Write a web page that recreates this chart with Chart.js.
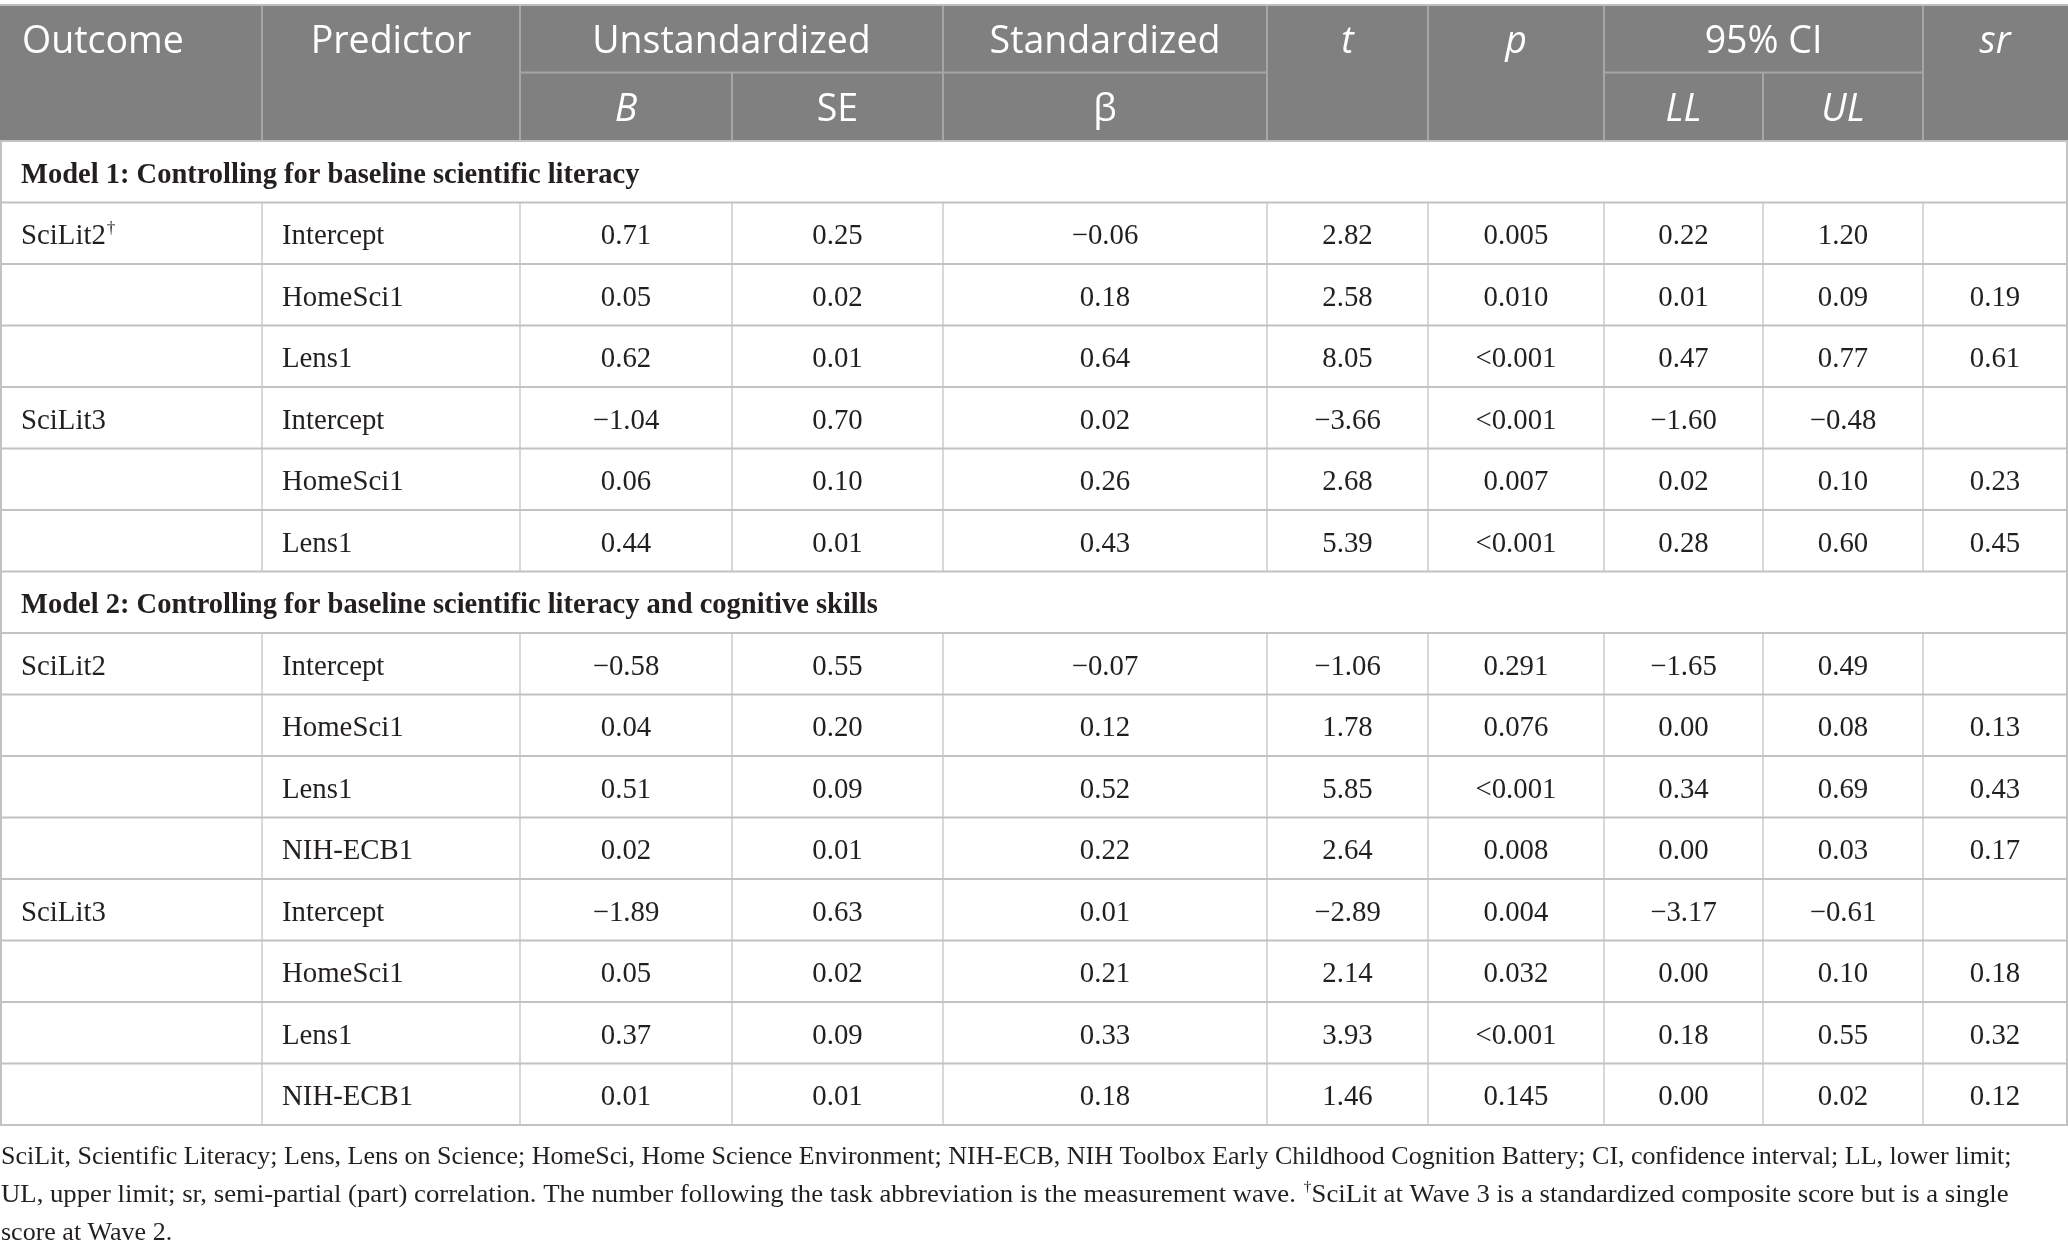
<!DOCTYPE html>
<html><head><meta charset="utf-8">
<script src="https://cdn.jsdelivr.net/npm/chart.js@4.4.0/dist/chart.umd.min.js"></script>
<style>html,body{margin:0;padding:0;background:#fff;overflow:hidden}canvas{display:block}</style>
</head><body>
<canvas id="c" width="2068" height="1253"></canvas>
<script>
// ---------- DATA ----------
const headerTop = ['Outcome', 'Predictor', 'Unstandardized', 'Standardized', 't', 'p', '95% CI', 'sr'];
const headerSub = ['B', 'SE', 'β', 'LL', 'UL'];
const modelTitles = ['Model 1: Controlling for baseline scientific literacy',
                     'Model 2: Controlling for baseline scientific literacy and cognitive skills'];
const modelRowCounts = [6, 8];
const outcomes   = ['SciLit2†', '', '', 'SciLit3', '', '', 'SciLit2', '', '', '', 'SciLit3', '', '', ''];
const predictors = ['Intercept', 'HomeSci1', 'Lens1', 'Intercept', 'HomeSci1', 'Lens1',
                    'Intercept', 'HomeSci1', 'Lens1', 'NIH-ECB1', 'Intercept', 'HomeSci1', 'Lens1', 'NIH-ECB1'];
const B     = [0.71, 0.05, 0.62, -1.04, 0.06, 0.44, -0.58, 0.04, 0.51, 0.02, -1.89, 0.05, 0.37, 0.01];
const SE    = [0.25, 0.02, 0.01, 0.70, 0.10, 0.01, 0.55, 0.20, 0.09, 0.01, 0.63, 0.02, 0.09, 0.01];
const beta  = [-0.06, 0.18, 0.64, 0.02, 0.26, 0.43, -0.07, 0.12, 0.52, 0.22, 0.01, 0.21, 0.33, 0.18];
const tVals = [2.82, 2.58, 8.05, -3.66, 2.68, 5.39, -1.06, 1.78, 5.85, 2.64, -2.89, 2.14, 3.93, 1.46];
const pVals = ['0.005', '0.010', '<0.001', '<0.001', '0.007', '<0.001', '0.291', '0.076', '<0.001', '0.008',
               '0.004', '0.032', '<0.001', '0.145'];
const LL    = [0.22, 0.01, 0.47, -1.60, 0.02, 0.28, -1.65, 0.00, 0.34, 0.00, -3.17, 0.00, 0.18, 0.00];
const UL    = [1.20, 0.09, 0.77, -0.48, 0.10, 0.60, 0.49, 0.08, 0.69, 0.03, -0.61, 0.10, 0.55, 0.02];
const sr    = [null, 0.19, 0.61, null, 0.23, 0.45, null, 0.13, 0.43, 0.17, null, 0.18, 0.32, 0.12];
const footnoteLines = [
  'SciLit, Scientific Literacy; Lens, Lens on Science; HomeSci, Home Science Environment; NIH-ECB, NIH Toolbox Early Childhood Cognition Battery; CI, confidence interval; LL, lower limit;',
  'UL, upper limit; sr, semi-partial (part) correlation. The number following the task abbreviation is the measurement wave. †SciLit at Wave 3 is a standardized composite score but is a single',
  'score at Wave 2.'
];

// ---------- LAYOUT ----------
const W = 2068, H = 1253;
const colEdges = [0, 262, 520, 732, 943, 1267, 1428, 1604, 1763, 1923, 2067];
const tableTop = 6, headerMid = 72.5, headerBottom = 141, rowH = 61.5;
const padLeft = 21;
const footStretch = [1, 1.028, 1];
const SERIF = '"Liberation Serif", "Times New Roman", serif';
const SANS = '"Open Sans", sans-serif';
const bodyFont = '28.8px ' + SERIF;
const boldFont = 'bold 28.5px ' + SERIF;
const headFont = '37.5px ' + SANS;
const headItalic = 'italic 37.5px ' + SANS;
const noteFont = '26px ' + SERIF;
const textColor = '#231f20';

const fmt = v => v === null ? '' : (typeof v === 'string' ? v : (v < 0 ? '−' + Math.abs(v).toFixed(2) : v.toFixed(2)));

// build display rows
const rows = [];
let di = 0;
modelTitles.forEach((t, m) => {
  rows.push({ type: 'model', text: t });
  for (let k = 0; k < modelRowCounts[m]; k++) rows.push({ type: 'data', i: di++ });
});
const rowCenter = r => headerBottom + (r + 0.5) * rowH;

const columnsData = [outcomes, predictors, B, SE, beta, tVals, pVals, LL, UL, sr];
const datasets = columnsData.map((arr, c) => {
  const left = c < 2;
  const pts = [], texts = [];
  rows.forEach((row, r) => {
    if (row.type !== 'data') return;
    pts.push({ x: left ? colEdges[c] + padLeft - (c === 0 ? 0 : 1) : (colEdges[c] + colEdges[c + 1]) / 2, y: rowCenter(r) });
    texts.push(fmt(arr[row.i]));
  });
  return { label: 'col' + c, data: pts, texts, align: left ? 'left' : 'center', font: bodyFont, pointRadius: 0 };
});
// model titles dataset
const mPts = [], mTexts = [];
rows.forEach((row, r) => { if (row.type === 'model') { mPts.push({ x: padLeft, y: rowCenter(r) }); mTexts.push(row.text); } });
datasets.push({ label: 'models', data: mPts, texts: mTexts, align: 'left', font: boldFont, pointRadius: 0 });
// header positions
const headTopPos = [
  { x: 22, a: 'left', it: false },
  { x: (colEdges[1] + colEdges[2]) / 2, a: 'center', it: false },
  { x: (colEdges[2] + colEdges[4]) / 2, a: 'center', it: false },
  { x: (colEdges[4] + colEdges[5]) / 2, a: 'center', it: false },
  { x: (colEdges[5] + colEdges[6]) / 2, a: 'center', it: true },
  { x: (colEdges[6] + colEdges[7]) / 2, a: 'center', it: true },
  { x: (colEdges[7] + colEdges[9]) / 2, a: 'center', it: false },
  { x: (colEdges[9] + colEdges[10]) / 2, a: 'center', it: true }
];
const headSubCols = [2, 3, 4, 7, 8];
const headSubItalic = [true, false, false, true, true];

function drawText(ctx, str, x, y, align, font) {
  ctx.font = font;
  ctx.textAlign = align;
  ctx.textBaseline = 'middle';
  const k = str.indexOf('†');
  if (k < 0) { ctx.fillText(str, x, y); return; }
  const base = str.slice(0, k), rest = str.slice(k + 1);
  const m = font.match(/([\d.]+)px/); const size = parseFloat(m[1]);
  const supFont = font.replace(/[\d.]+px/, (size * 0.6).toFixed(1) + 'px');
  ctx.textAlign = 'left';
  let cx = x;
  ctx.fillText(base, cx, y); cx += ctx.measureText(base).width;
  ctx.font = supFont; ctx.fillText('†', cx + 1, y - size * 0.3); cx += ctx.measureText('†').width + 1;
  ctx.font = font; ctx.fillText(rest, cx, y);
}

const tablePlugin = {
  id: 'tablePlugin',
  beforeDatasetsDraw(chart) {
    const { ctx, scales: { x, y } } = chart;
    const X = v => x.getPixelForValue(v), Y = v => y.getPixelForValue(v);
    ctx.save();
    // header background
    ctx.fillStyle = '#808080';
    ctx.fillRect(X(0), Y(tableTop), X(W) - X(0), Y(headerBottom) - Y(tableTop));
    // top rule
    ctx.strokeStyle = '#bdbdbd'; ctx.lineWidth = 2;
    ctx.beginPath(); ctx.moveTo(X(0), Y(tableTop) - 1); ctx.lineTo(X(W), Y(tableTop) - 1); ctx.stroke();
    // header separators
    ctx.strokeStyle = '#a6a6a6'; ctx.lineWidth = 2;
    ctx.beginPath();
    ctx.moveTo(X(colEdges[2]), Y(headerMid)); ctx.lineTo(X(colEdges[5]), Y(headerMid));
    ctx.moveTo(X(colEdges[7]), Y(headerMid)); ctx.lineTo(X(colEdges[9]), Y(headerMid));
    [1, 2, 4, 5, 6, 7, 9].forEach(c => { ctx.moveTo(X(colEdges[c]), Y(tableTop)); ctx.lineTo(X(colEdges[c]), Y(headerBottom)); });
    [3, 8].forEach(c => { ctx.moveTo(X(colEdges[c]), Y(headerMid)); ctx.lineTo(X(colEdges[c]), Y(headerBottom)); });
    ctx.stroke();
    // body vertical lines
    ctx.strokeStyle = '#cccccc'; ctx.lineWidth = 1.5;
    ctx.beginPath();
    rows.forEach((row, r) => {
      const y0 = Y(headerBottom + r * rowH), y1 = Y(headerBottom + (r + 1) * rowH);
      const cols = row.type === 'data' ? colEdges.slice(1, -1) : [];
      cols.forEach(cx => { ctx.moveTo(X(cx), y0); ctx.lineTo(X(cx), y1); });
    });
    ctx.stroke();
    ctx.strokeStyle = '#c2c2c2'; ctx.lineWidth = 2;
    ctx.beginPath();
    const bottom = headerBottom + rows.length * rowH;
    ctx.moveTo(X(0) + 1, Y(headerBottom)); ctx.lineTo(X(0) + 1, Y(bottom));
    ctx.moveTo(X(W) - 1, Y(headerBottom)); ctx.lineTo(X(W) - 1, Y(bottom));
    for (let r = 0; r <= rows.length; r++) {
      const yy = Y(headerBottom + r * rowH);
      ctx.moveTo(X(0), yy); ctx.lineTo(X(W), yy);
    }
    ctx.stroke();
    // header text
    ctx.fillStyle = '#ffffff';
    const yTop = (tableTop + headerMid) / 2 + 3.5, ySub = (headerMid + headerBottom) / 2 + 3.5;
    headerTop.forEach((t, i) => drawText(ctx, t, X(headTopPos[i].x), Y(yTop), headTopPos[i].a, headTopPos[i].it ? headItalic : headFont));
    headerSub.forEach((t, i) => {
      const c = headSubCols[i];
      drawText(ctx, t, X((colEdges[c] + colEdges[c + 1]) / 2), Y(ySub), 'center', headSubItalic[i] ? headItalic : headFont);
    });
    // footnote
    ctx.fillStyle = textColor;
    footnoteLines.forEach((l, i) => {
      ctx.save();
      ctx.translate(X(1), Y(1157 + i * 38));
      ctx.scale(footStretch[i], 1);
      drawText(ctx, l, 0, 0, 'left', noteFont);
      ctx.restore();
    });
    ctx.restore();
  },
  afterDatasetsDraw(chart) {
    const { ctx } = chart;
    ctx.save();
    ctx.fillStyle = textColor;
    chart.data.datasets.forEach((ds, d) => {
      const meta = chart.getDatasetMeta(d);
      meta.data.forEach((el, j) => {
        const s = ds.texts[j];
        if (s) drawText(ctx, s, el.x, el.y + 3.5, ds.align, ds.font);
      });
    });
    ctx.restore();
  }
};

new Chart(document.getElementById('c'), {
  type: 'scatter',
  data: { datasets },
  options: {
    responsive: false, animation: false, devicePixelRatio: 1, events: [],
    layout: { padding: 0 },
    plugins: { legend: { display: false }, tooltip: { enabled: false } },
    scales: {
      x: { type: 'linear', min: 0, max: W, display: false },
      y: { type: 'linear', min: 0, max: H, reverse: true, display: false }
    }
  },
  plugins: [tablePlugin]
});
</script>
</body></html>
